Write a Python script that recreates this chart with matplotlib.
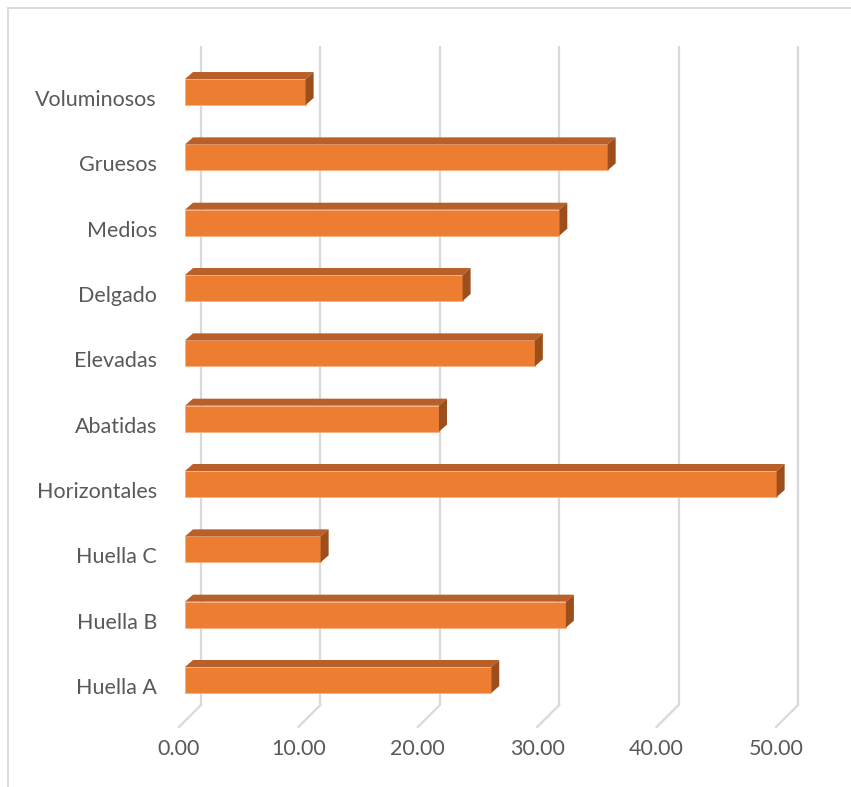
import matplotlib.pyplot as plt
from matplotlib.patches import Rectangle, Polygon
import numpy as np

# --- data ---
categories = ["Huella A", "Huella B", "Huella C", "Horizontales", "Abatidas",
              "Elevadas", "Delgado", "Medios", "Gruesos", "Voluminosos"]
values = [25.65, 31.9, 11.36, 49.55, 21.27, 29.3, 23.25, 31.35, 35.4, 10.1]
ticks = [0, 10, 20, 30, 40, 50]
tick_labels = ["0.00", "10.00", "20.00", "30.00", "40.00", "50.00"]

# --- layout helpers (pixel sizes -> data units) ---
W, H = 851, 787
PX = 11.94      # pixels per value unit
PY = 65.33      # pixels per category row
X0 = 185        # pixel of value 0 on the bar front face
Y0 = 680        # pixel row of the first category centre


def ux(p):
    return p / PX


def uy(p):
    return p / PY


FRONT = "#ED7D31"
TOP = "#B9602A"
SIDE = "#9C4E1D"
GRID = "#D9D9D9"
TEXT = "#595959"

plt.rcParams["font.family"] = ["Lato", "DejaVu Sans"]

fig = plt.figure(figsize=(W / 100, H / 100), dpi=100)
ax = fig.add_axes([0, 0, 1, 1])
ax.set_xlim(ux(0 - X0), ux(W - X0))
ax.set_ylim(uy(Y0 - H), uy(Y0))
ax.axis("off")

# chart area border
fig.patches.append(Rectangle((8 / W, -0.1), 1.2, 1 - 8 / H + 0.1,
                             transform=fig.transFigure, fill=False,
                             edgecolor=GRID, linewidth=1.3))

# back wall gridlines and floor lines
depth = ux(16)
floor_y = uy(Y0 - 705)
top_y = uy(Y0 - 46)
for t, lab in zip(ticks, tick_labels):
    ax.plot([t + depth, t + depth], [floor_y, top_y], color=GRID, lw=1.6,
            zorder=1, solid_capstyle="butt")
    ax.plot([t + depth, t - ux(6)], [floor_y, uy(Y0 - 727)], color=GRID,
            lw=1.6, zorder=1)
    ax.text(t - ux(6), uy(Y0 - 749), lab, ha="center", va="center",
            fontsize=15.5, color=TEXT)

# bars: front face + top face + side face
y = np.arange(len(categories))
h = uy(26)
dx, dy = ux(8), uy(7)
ax.barh(y, values, height=h, left=0, color=FRONT, edgecolor="#F4B183",
        linewidth=0.6, zorder=3)
for yi, v in zip(y, values):
    top = [(0, yi + h / 2), (v, yi + h / 2), (v + dx, yi + h / 2 + dy),
           (dx, yi + h / 2 + dy)]
    side = [(v, yi - h / 2), (v, yi + h / 2), (v + dx, yi + h / 2 + dy),
            (v + dx, yi - h / 2 + dy)]
    ax.add_patch(Polygon(top, closed=True, facecolor=TOP, edgecolor="none",
                         zorder=3))
    ax.add_patch(Polygon(side, closed=True, facecolor=SIDE, edgecolor="none",
                         zorder=3))

# category labels, sitting a little below the bar centres
for yi, c in zip(y, categories):
    ax.text(ux(157 - X0), yi - uy(8), c, ha="right", va="center",
            fontsize=15.5, color=TEXT)

fig.savefig("out.png", dpi=100, facecolor="white")
